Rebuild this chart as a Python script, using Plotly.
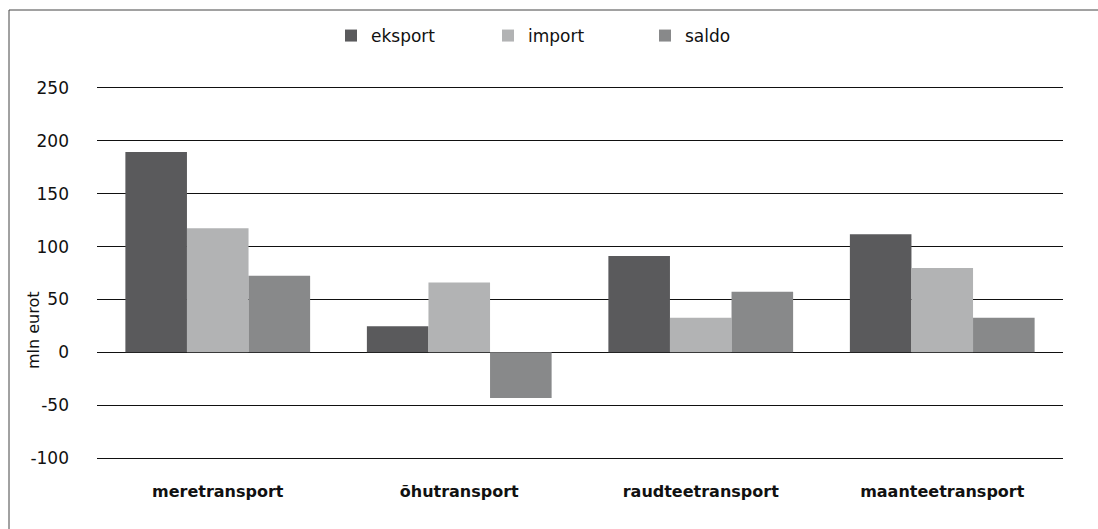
import plotly.graph_objects as go

categories = ["meretransport", "õhutransport", "raudteetransport", "maanteetransport"]
eksport = [189.5, 24.7, 91.0, 111.7]
import_ = [117.3, 66.0, 32.6, 79.7]
saldo = [72.4, -43.1, 57.3, 32.6]
tick_vals = [-100, -50, 0, 50, 100, 150, 200, 250]
tick_text = ["-100", "-50", "0", "50", "100", "150", "200", "250"]

FONT = "DejaVu Sans, Liberation Sans, Arial, sans-serif"
W, H = 1098, 529
ml, mr, mt, mb = 97, 35, 86, 69

fig = go.Figure()
fig.add_bar(name="eksport", x=categories, y=eksport, marker=dict(color="#5a5a5c", line=dict(width=0)))
fig.add_bar(name="import", x=categories, y=import_, marker=dict(color="#b2b3b4", line=dict(width=0)))
fig.add_bar(name="saldo", x=categories, y=saldo, marker=dict(color="#88898a", line=dict(width=0)))

pw = W - ml - mr
ph = H - mt - mb
fig.add_shape(type="rect", xref="paper", yref="paper",
              x0=(9 - ml) / pw, x1=(1300 - ml) / pw,
              y0=-(700 - (H - mb)) / ph, y1=((H - mb) - 10) / ph,
              line=dict(color="#444444", width=1), fillcolor="rgba(0,0,0,0)", layer="below")

fig.add_annotation(text="mln eurot", xref="paper", yref="paper",
                   x=(33 - ml) / pw, y=((H - mb) - 330) / ph, textangle=-90,
                   showarrow=False, font=dict(size=16, color="#111111", family=FONT),
                   xanchor="center", yanchor="middle")

fig.update_layout(
    width=W, height=H,
    margin=dict(l=ml, r=mr, t=mt, b=mb),
    paper_bgcolor="white", plot_bgcolor="white",
    barmode="group", bargap=0.235, bargroupgap=0,
    font=dict(family=FONT, color="#111111"),
    showlegend=True,
    legend=dict(orientation="h", x=(331 - ml) / pw, xanchor="left",
                y=1 + (mt - 36) / ph, yanchor="middle",
                font=dict(size=17, family=FONT), itemwidth=30,
                entrywidth=112, entrywidthmode="pixels",
                traceorder="normal", bgcolor="rgba(0,0,0,0)"),
    xaxis=dict(showgrid=False, showline=False, ticks="",
               tickfont=dict(size=16, family=FONT, weight="bold"),
               ticklabelstandoff=20),
    yaxis=dict(range=[-101.8, 251.8], tickvals=tick_vals, ticktext=tick_text, showgrid=True,
               gridcolor="#111111", gridwidth=1, zeroline=True, zerolinecolor="#111111",
               zerolinewidth=1, showline=False, ticks="",
               tickfont=dict(size=17, family=FONT), ticklabelstandoff=27),
)

fig.write_html("out.html", config={"displayModeBar": False},
               post_script="document.body.style.margin='0';document.body.style.overflow='hidden';")
